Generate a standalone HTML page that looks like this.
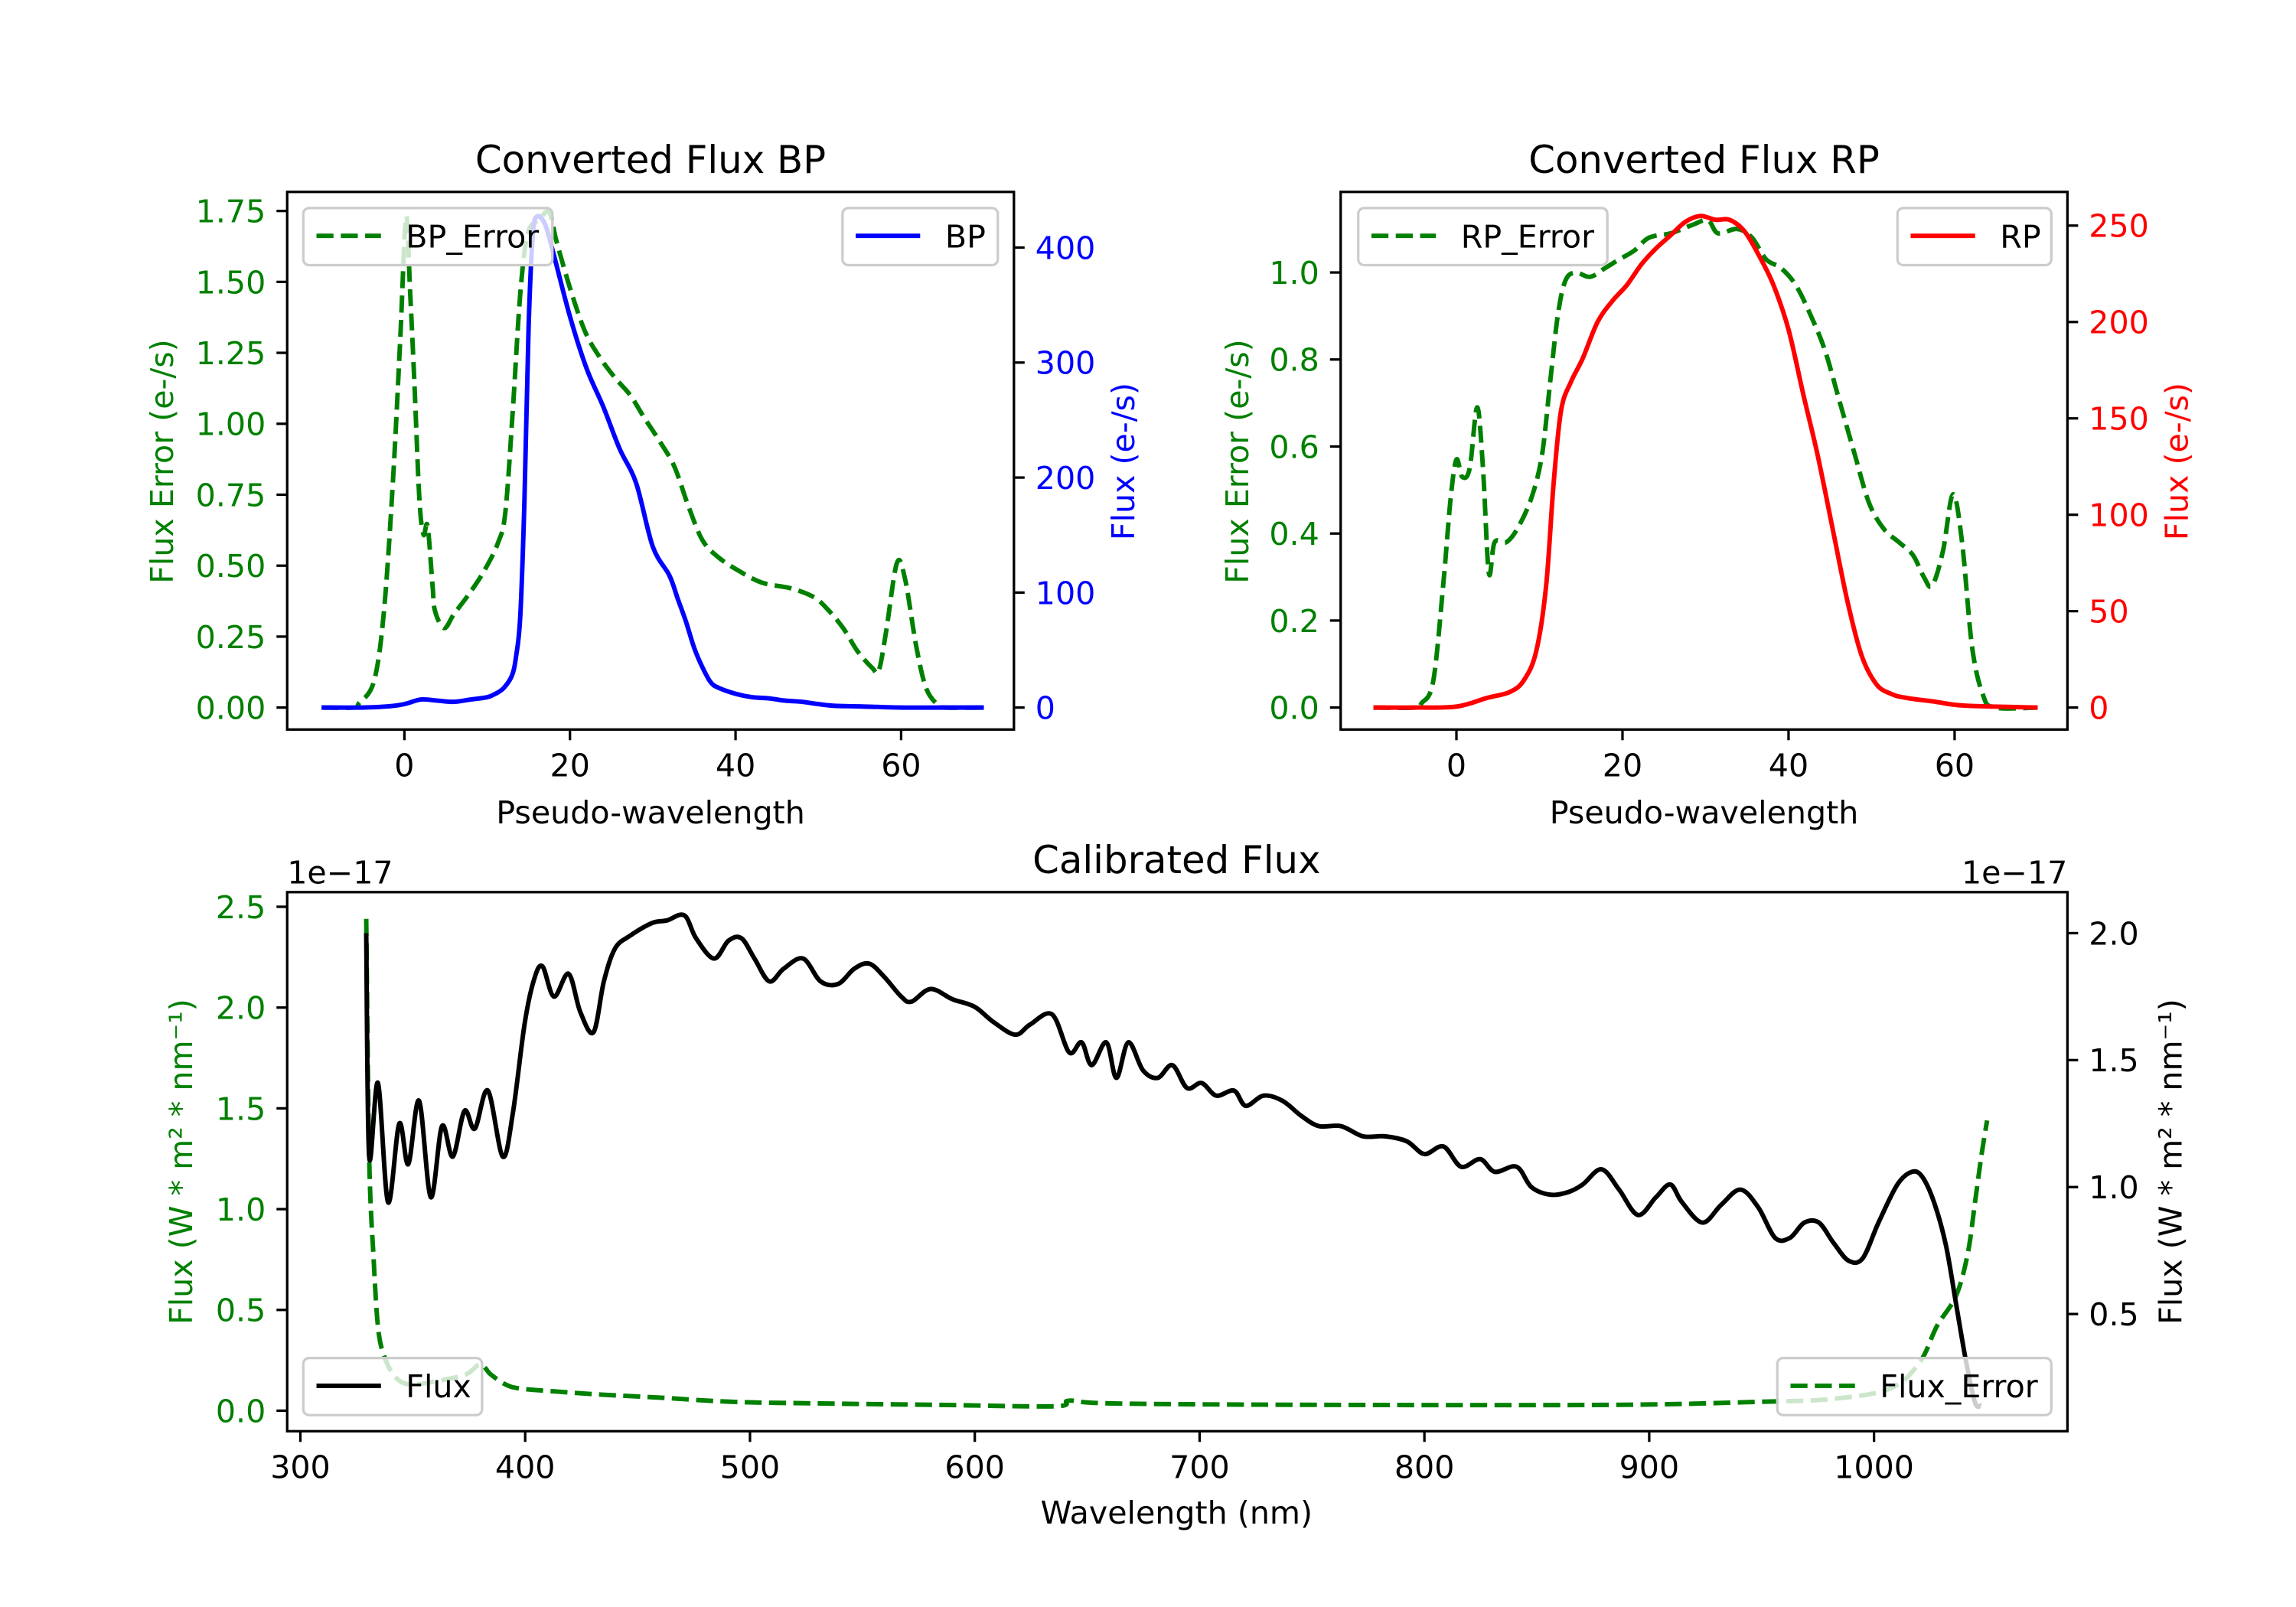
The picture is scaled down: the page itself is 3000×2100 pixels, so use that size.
<!DOCTYPE html>
<html><head><meta charset="utf-8"><style>
html,body{margin:0;padding:0;background:#fff;}
svg{display:block;}
text{font-family:"DejaVu Sans","Liberation Sans",sans-serif;}
</style></head><body>
<svg id="fig" width="3000" height="2100" viewBox="0 0 1567 1097" preserveAspectRatio="none" xmlns="http://www.w3.org/2000/svg">
<rect x="0" y="0" width="1567" height="1097" fill="#fff"/>
</svg>
<script>
// ---- BP panel data ----
const bpX = [-10,-5,-2,0,2,4,6,8,10,11,12,13,13.5,14,14.5,15,15.5,16,17,18,20,22,24,26,28,30,32,33,34,35,36,37,38,40,42,44,46,48,50,52,55,60,65,70];
const bpFlux = [0,0,1,3,7,6,5,7,9,12,17,28,45,80,180,330,410,427,420,395,340,295,262,225,195,140,115,95,75,52,35,22,17,12,9,8,6,5,3,1.5,1,0,0,0];
const bpErrX = [-10,-6,-5.5,-3.7,-2.5,-1.4,-0.5,0.2,0.7,1.2,1.8,2.3,2.8,3.4,3.7,4.8,6,7.8,9.6,11.3,12.2,13.1,14,14.9,16.3,17.5,18.4,20.2,21.9,23.7,25.5,27.3,29,30.8,32.6,34.3,36,37.9,40.5,43.2,46.7,49.4,51,53,54.7,56.5,57.3,58.2,59.5,60.5,61.8,63,64.4,65.3,70];
const bpErr = [0,0,0.015,0.09,0.33,0.79,1.3,1.73,1.46,1.15,0.74,0.61,0.64,0.43,0.34,0.28,0.33,0.40,0.48,0.58,0.69,1.05,1.46,1.67,1.72,1.745,1.64,1.46,1.32,1.23,1.16,1.10,1.02,0.94,0.85,0.71,0.59,0.53,0.48,0.44,0.42,0.39,0.35,0.28,0.20,0.14,0.13,0.27,0.51,0.45,0.22,0.07,0.01,0,0];
// ---- RP panel data ----
const rpX = [-10,-5,0,3.7,6.4,8.1,9.6,10.8,11.7,12.6,13.8,15.2,17,18.8,20.5,22.3,24,25.8,27.6,29.4,31.2,32.9,34.7,36.5,38.2,40,41.8,43.5,45.3,47.1,48.8,50.6,52.4,54.2,57.7,61.2,70];
const rpFlux = [0,0,0.5,5,8,14,29,63,116,154,169,181,200,211,219,230,238,245,252,255,253,253,247,234,219,196,162,131,93,55,27,12,7,5,3,1,0];
const rpErrX = [-10,-5,-4.2,-2.8,-1.6,-0.7,0,0.7,1.6,2.5,3.2,3.9,4.6,6,7.3,9,10.3,11.3,12.2,13.1,14.3,16.1,17.9,19.6,21.4,23.2,25.8,28.5,30.3,31.5,33.8,35.6,37.3,39.1,40.9,42.7,44.4,46.2,48,49.7,51.5,53.3,55,56.3,57.3,58.6,59.8,60.9,62.1,63.4,64.8,70];
const rpErr = [0,0,0.01,0.06,0.28,0.48,0.57,0.53,0.55,0.69,0.55,0.31,0.38,0.38,0.41,0.48,0.58,0.75,0.90,0.98,1.00,0.99,1.01,1.03,1.05,1.08,1.09,1.11,1.12,1.09,1.10,1.08,1.03,1.01,0.97,0.90,0.82,0.70,0.58,0.47,0.41,0.38,0.35,0.30,0.28,0.36,0.49,0.38,0.14,0.03,0,0];
// ---- Calibrated panel data (units of 1e-17) ----
const wlFlux = [329.3,330.6,334.5,339,344,348,352.8,358,363,367.8,373,377.6,383.4,390,394.5,399.7,403.7,407.6,412.8,419.3,424.5,430.4,435,440,446.7,456.5,463,470.8,476,484,490.4,496.2,502,508.6,515,523.6,531.4,539.2,546.4,553,559.5,567.3,571.8,580.3,590,599.9,608.3,618,624.6,634.4,642,647.5,652,658.5,663,668.3,674.8,681.4,687.9,694.4,700.9,707.4,715.3,720.5,728.4,736.8,745.3,753.1,762.9,772.6,782.4,792.2,800,808.5,816.3,824.8,831.3,841,847.6,856,863.9,870.4,878.8,886.6,895,903,909.4,914.6,923.7,932,940.6,948.5,956,962.6,969,975.5,982,988.7,995,1002,1010.4,1016.9,1021.5,1026.7,1032,1036.5,1041,1045,1047.7];
const calFlux = [2.0,1.12,1.41,0.94,1.25,1.09,1.34,0.96,1.24,1.12,1.30,1.23,1.38,1.12,1.29,1.64,1.81,1.87,1.75,1.84,1.69,1.61,1.81,1.94,1.99,2.04,2.05,2.07,1.98,1.90,1.97,1.98,1.90,1.81,1.86,1.90,1.81,1.80,1.86,1.88,1.83,1.75,1.73,1.78,1.74,1.71,1.65,1.60,1.64,1.68,1.53,1.57,1.48,1.57,1.43,1.57,1.46,1.43,1.48,1.39,1.41,1.36,1.38,1.32,1.36,1.34,1.28,1.24,1.24,1.20,1.20,1.18,1.13,1.16,1.08,1.11,1.06,1.08,1.00,0.97,0.98,1.01,1.07,0.99,0.89,0.96,1.01,0.94,0.86,0.93,0.99,0.92,0.80,0.80,0.86,0.86,0.78,0.71,0.72,0.86,1.01,1.06,1.04,0.94,0.77,0.54,0.31,0.15,0.14];
const wlErr = [329.3,330.6,332.6,334.5,337,342,349,362,373.7,380,384.7,391.3,397.8,414,433.6,459.7,492.3,531.4,583.6,635.7,642,661.6,753,883.4,948.6,981,1007.2,1020.3,1028,1036.5,1041.7,1045,1047.7,1050.3];
const calErr = [2.44,1.26,0.75,0.42,0.28,0.17,0.13,0.15,0.18,0.23,0.18,0.13,0.11,0.095,0.08,0.065,0.044,0.036,0.029,0.022,0.05,0.036,0.029,0.029,0.044,0.058,0.11,0.24,0.42,0.57,0.78,1.04,1.26,1.44];
// ---- tick labels ----
const bpLeftTicks = [0,0.25,0.5,0.75,1.0,1.25,1.5,1.75];
const bpRightTicks = [0,100,200,300,400];
const pwTicks = [0,20,40,60];
const rpLeftTicks = [0,0.2,0.4,0.6,0.8,1.0];
const rpRightTicks = [0,50,100,150,200,250];
const wlTicks = [300,400,500,600,700,800,900,1000];
const calLeftTicks = [0,0.5,1.0,1.5,2.0,2.5];
const calRightTicks = [0.5,1.0,1.5,2.0];

const NS = 'http://www.w3.org/2000/svg';
const svg = document.getElementById('fig');
const FS = 21.5;
function mk(tag, attrs, parent) {
  const e = document.createElementNS(NS, tag);
  for (const k in attrs) e.setAttribute(k, attrs[k]);
  (parent || svg).appendChild(e);
  return e;
}
function txt(s, x, y, opt, parent) {
  const e = mk('text', Object.assign({x:x, y:y, 'font-size':FS, fill:'#000'}, opt || {}), parent);
  e.textContent = s;
  return e;
}
function lin(d0, d1, r0, r1) { return v => r0 + (v - d0) * (r1 - r0) / (d1 - d0); }
function pathFor(xs, ys, sx, sy) {
  const px = xs.map(sx), py = ys.map(sy);
  let d = 'M' + px[0].toFixed(2) + ',' + py[0].toFixed(2);
  for (let i = 0; i < px.length - 1; i++) {
    const x0 = px[Math.max(i-1,0)], y0 = py[Math.max(i-1,0)];
    const x3 = px[Math.min(i+2,px.length-1)], y3 = py[Math.min(i+2,px.length-1)];
    const c1x = px[i] + (px[i+1]-x0)/6, c1y = py[i] + (py[i+1]-y0)/6;
    const c2x = px[i+1] - (x3-px[i])/6, c2y = py[i+1] - (y3-py[i])/6;
    d += 'C' + c1x.toFixed(2) + ',' + c1y.toFixed(2) + ' ' + c2x.toFixed(2) + ',' + c2y.toFixed(2) + ' ' + px[i+1].toFixed(2) + ',' + py[i+1].toFixed(2);
  }
  return d;
}
function fmt(v, dec) { return v.toFixed(dec); }

function legend(x, y, w, label, color, dashed, name) {
  const g = mk('g', {});
  
  
  mk('rect', {x:x, y:y, width:w, height:39, rx:4, fill:'#fff', 'fill-opacity':0.8, stroke:'#cccccc', 'stroke-width':1.7}, g);
  const l = mk('line', {x1:x+9, x2:x+53, y1:y+19, y2:y+19, stroke:color, 'stroke-width':3.1}, g);
  if (dashed) l.setAttribute('stroke-dasharray', '11.6,5');
  txt(label, x+70, y+27, {}, g);
}

function axesFrame(L, T, R, B, name) {
  const r = mk('rect', {x:L, y:T, width:R-L, height:B-T, fill:'none', stroke:'#000', 'stroke-width':1.7});
  
  
}
function yTicks(vals, sy, xAx, side, color, dec, name) {
  const g = mk('g', {});
  
  
  vals.forEach(v => {
    const y = sy(v);
    if (side === 'left') {
      mk('line', {x1:xAx-7.3, x2:xAx, y1:y, y2:y, stroke:'#000', 'stroke-width':1.7}, g);
      txt(fmt(v, dec), xAx-14.6, y+7.8, {'text-anchor':'end', fill:color}, g);
    } else {
      mk('line', {x1:xAx, x2:xAx+7.3, y1:y, y2:y, stroke:'#000', 'stroke-width':1.7}, g);
      txt(fmt(v, dec), xAx+14.6, y+7.8, {'text-anchor':'start', fill:color}, g);
    }
  });
}
function xTicks(vals, sx, yAx, name) {
  const g = mk('g', {});
  
  
  vals.forEach(v => {
    const x = sx(v);
    mk('line', {x1:x, x2:x, y1:yAx, y2:yAx+7.3, stroke:'#000', 'stroke-width':1.7}, g);
    txt(String(v), x, yAx+32, {'text-anchor':'middle'}, g);
  });
}
function series(xs, ys, sx, sy, color, dashed, name, clipId) {
  const p = mk('path', {d:pathFor(xs, ys, sx, sy), fill:'none', stroke:color, 'stroke-width':3.1, 'stroke-linejoin':'round', 'clip-path':'url(#'+clipId+')'});
  if (dashed) p.setAttribute('stroke-dasharray', '11.6,5');
  
  
}
function vlabel(s, x, y, color, name) {
  const e = txt(s, x, y, {'text-anchor':'middle', fill:color, transform:'rotate(-90 '+x+' '+y+')'});
  
  
  return e;
}
const defs = mk('defs', {});
function clip(id, L, T, R, B) {
  const c = mk('clipPath', {id:id}, defs);
  mk('rect', {x:L, y:T, width:R-L, height:B-T}, c);
}

// ===== BP panel =====
(function(){
  const L=196, T=131, R=692, B=498;
  clip('cbp', L, T, R, B);
  const sx = lin(0, 60, 276, 615);
  const syL = lin(0, 1.75, 483, 144);
  const syR = lin(0, 400, 483, 169);
  series(bpErrX, bpErr, sx, syL, '#008000', true, 'bp-error-line', 'cbp');
  series(bpX, bpFlux, sx, syR, '#0000ff', false, 'bp-flux-line', 'cbp');
  axesFrame(L, T, R, B, 'bp-axes');
  yTicks(bpLeftTicks, syL, L, 'left', '#008000', 2, 'bp-left-y-ticks');
  yTicks(bpRightTicks, syR, R, 'right', '#0000ff', 0, 'bp-right-y-ticks');
  xTicks(pwTicks, sx, B, 'bp-x-ticks');
  let t = txt('Converted Flux BP', 444, 118, {'text-anchor':'middle','font-size':26});
   
  t = txt('Pseudo-wavelength', 444, 562, {'text-anchor':'middle'});
   
  vlabel('Flux Error (e-/s)', 118, 315, '#008000', 'bp-left-y-axis-title');
  vlabel('Flux (e-/s)', 774, 315, '#0000ff', 'bp-right-y-axis-title');
  legend(207, 142, 170, 'BP_Error', '#008000', true, 'bp-error-legend');
  legend(575, 142, 106, 'BP', '#0000ff', false, 'bp-legend');
})();

// ===== RP panel =====
(function(){
  const L=915, T=131, R=1411, B=498;
  clip('crp', L, T, R, B);
  const sx = lin(0, 60, 994, 1334);
  const syL = lin(0, 1.0, 483, 186);
  const syR = lin(0, 250, 483, 154);
  series(rpErrX, rpErr, sx, syL, '#008000', true, 'rp-error-line', 'crp');
  series(rpX, rpFlux, sx, syR, '#ff0000', false, 'rp-flux-line', 'crp');
  axesFrame(L, T, R, B, 'rp-axes');
  yTicks(rpLeftTicks, syL, L, 'left', '#008000', 1, 'rp-left-y-ticks');
  yTicks(rpRightTicks, syR, R, 'right', '#ff0000', 0, 'rp-right-y-ticks');
  xTicks(pwTicks, sx, B, 'rp-x-ticks');
  let t = txt('Converted Flux RP', 1163, 118, {'text-anchor':'middle','font-size':26});
   
  t = txt('Pseudo-wavelength', 1163, 562, {'text-anchor':'middle'});
   
  vlabel('Flux Error (e-/s)', 852, 315, '#008000', 'rp-left-y-axis-title');
  vlabel('Flux (e-/s)', 1493, 315, '#ff0000', 'rp-right-y-axis-title');
  legend(927, 142, 170, 'RP_Error', '#008000', true, 'rp-error-legend');
  legend(1295, 142, 105, 'RP', '#ff0000', false, 'rp-legend');
})();

// ===== Calibrated panel =====
(function(){
  const L=196, T=609, R=1411, B=977;
  clip('ccal', L, T, R, B);
  const sx = lin(300, 1000, 205, 1279);
  const syL = lin(0, 2.5, 963, 619);
  const syR = lin(0.5, 2.0, 897, 637);
  series(wlErr, calErr, sx, syL, '#008000', true, 'flux-error-line', 'ccal');
  series(wlFlux, calFlux, sx, syR, '#000000', false, 'flux-line', 'ccal');
  axesFrame(L, T, R, B, 'calibrated-axes');
  yTicks(calLeftTicks, syL, L, 'left', '#008000', 1, 'cal-left-y-ticks');
  yTicks(calRightTicks, syR, R, 'right', '#000', 1, 'cal-right-y-ticks');
  xTicks(wlTicks, sx, B, 'cal-x-ticks');
  let t = txt('Calibrated Flux', 803, 596, {'text-anchor':'middle','font-size':26});
   
  t = txt('Wavelength (nm)', 803, 1040, {'text-anchor':'middle'});
   
  t = txt('1e\u221217', 196, 603, {'text-anchor':'start'});
   
  t = txt('1e\u221217', 1411, 603, {'text-anchor':'end'});
   
  vlabel('Flux (W * m\u00b2 * nm\u207b\u00b9)', 131, 793, '#008000', 'cal-left-y-axis-title');
  vlabel('Flux (W * m\u00b2 * nm\u207b\u00b9)', 1489, 793, '#000', 'cal-right-y-axis-title');
  legend(207, 927, 122, 'Flux', '#000', false, 'flux-legend');
  legend(1213, 927, 187, 'Flux_Error', '#008000', true, 'flux-error-legend');
})();
</script>
</body></html>
